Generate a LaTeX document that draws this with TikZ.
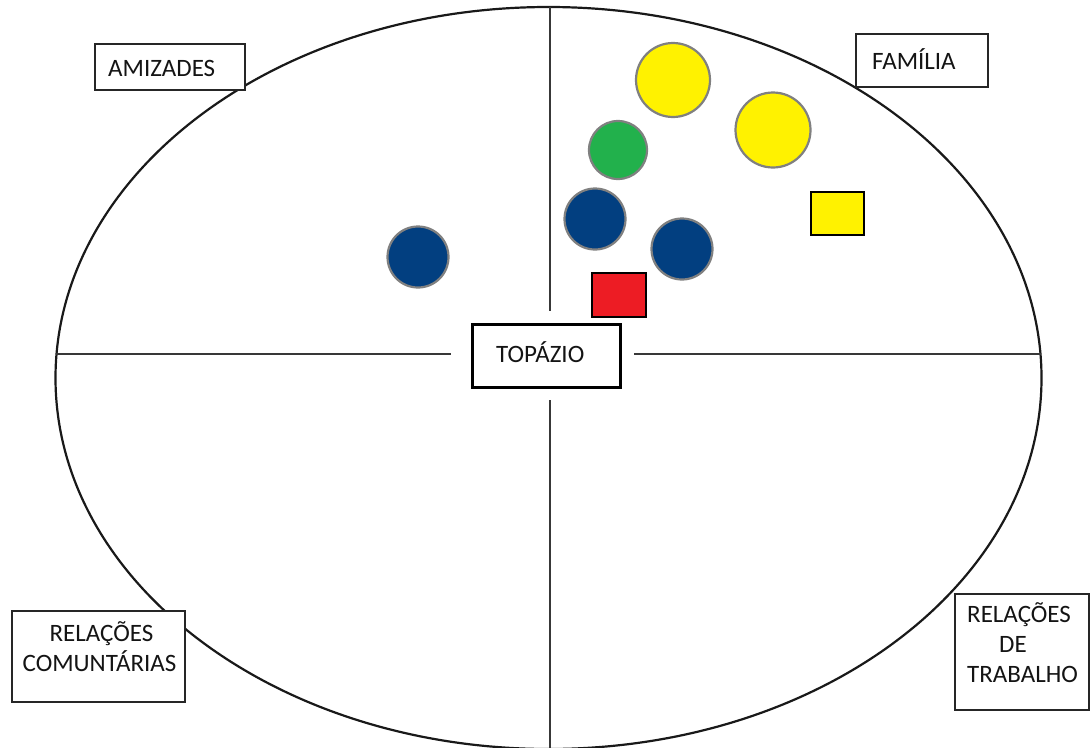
\documentclass[tikz,border=0pt]{standalone}
\usepackage{fontspec}
\setmainfont{Carlito}
\definecolor{sunyellow}{HTML}{FFF200}
\definecolor{leafgreen}{HTML}{22B14C}
\definecolor{navyblue}{HTML}{023F80}
\definecolor{brightred}{HTML}{ED1C24}
\begin{document}
\begin{tikzpicture}[x=1pt,y=-1pt,
  rim/.style={draw=black!90, line width=2.2pt},
  axis/.style={draw=black!78, line width=2.5pt},
  tag/.style={draw=black!85, line width=1.9pt, inner sep=0pt, anchor=north west},
  hubtag/.style={draw=black, line width=2.8pt, inner sep=0pt, anchor=north west},
  word/.style={inner sep=0pt, font=\fontsize{25}{30}\selectfont, text=black!92},
  disc/.style={circle, draw=black!50, line width=2.2pt, inner sep=0pt},
  tile/.style={draw=black, line width=2.6pt, inner sep=0pt},
]
\useasboundingbox (0,0) rectangle (1091,747);
\clip (0,0) rectangle (1091,747);
\fill[white] (0,0) rectangle (1091,747);

% outer ellipse of the network map
\draw[rim] (548.5,378) ellipse [x radius=493, y radius=371];

% quadrant axes, interrupted around the central box
\coordinate (wEnd) at (56,354);
\coordinate (wGap) at (451,354);
\coordinate (eGap) at (634,354);
\coordinate (eEnd) at (1041,354);
\coordinate (nEnd) at (550,7);
\coordinate (nGap) at (550,311);
\coordinate (sGap) at (550,400);
\coordinate (sEnd) at (550,752);
\draw[axis] (wEnd) -- (wGap);
\draw[axis] (eGap) -- (eEnd);
\draw[axis] (nEnd) -- (nGap);
\draw[axis] (sGap) -- (sEnd);

% central box
\node[hubtag, fill=white, minimum width=148pt, minimum height=63pt] (hubbox) at (471,323) {};
\node[word, anchor=base west] (hub) at (496,362) {TOPÁZIO};

% quadrant labels
\node[tag, fill=white, minimum width=150pt, minimum height=46pt] (amizbox) at (94,43) {};
\node[word, anchor=base west] (amiz) at (108,76) {AMIZADES};

\node[tag, fill=white, minimum width=132pt, minimum height=53pt] (fambox) at (855,33) {};
\node[word, anchor=base west] (fam) at (872,69) {FAMÍLIA};

\node[tag, fill=white, minimum width=173pt, minimum height=91pt] (combox) at (11,610) {};
\node[word, anchor=base] (comA) at (101.5,641) {RELAÇÕES};
\node[word, anchor=base] (comB) at (99.5,671) {COMUNTÁRIAS};

\node[tag, fill=white, minimum width=134pt, minimum height=116pt] (trabox) at (954,593) {};
\node[word, anchor=base west] (traA) at (967,622) {RELAÇÕES};
\node[word, anchor=base west] (traB) at (999,652) {DE};
\node[word, anchor=base west] (traC) at (967,682) {TRABALHO};

% people and groups
\node[disc, fill=sunyellow, minimum size=74pt] (y1) at (673,80) {};
\node[disc, fill=sunyellow, minimum size=75pt] (y2) at (773,130) {};
\node[disc, fill=leafgreen, minimum size=58pt] (g1) at (618,150) {};
\node[disc, fill=navyblue, minimum size=61pt] (b1) at (595,219) {};
\node[disc, fill=navyblue, minimum size=61pt] (b2) at (682,249) {};
\node[disc, fill=navyblue, minimum size=61pt] (b3) at (418,257) {};
\node[tile, fill=brightred, minimum width=54pt, minimum height=44pt] (r1) at (619,295) {};
\node[tile, fill=sunyellow, minimum width=53pt, minimum height=43pt] (s1) at (837.5,213.5) {};
\end{tikzpicture}
\end{document}
